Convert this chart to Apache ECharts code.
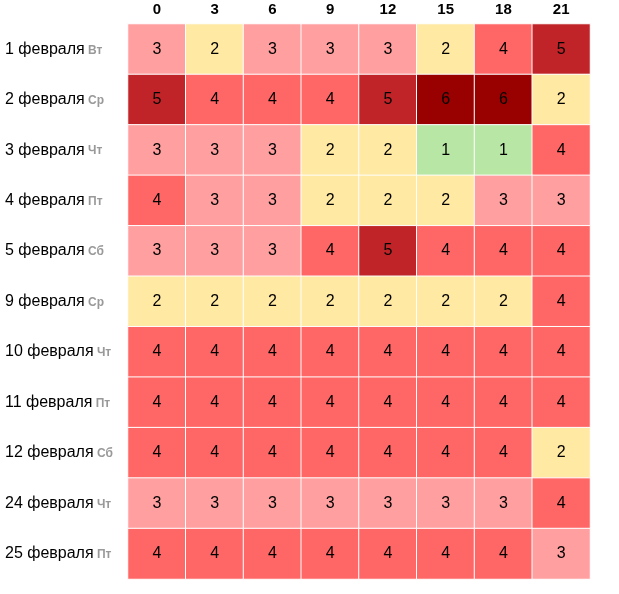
<!DOCTYPE html>
<html><head><meta charset="utf-8">
<script src="https://cdn.jsdelivr.net/npm/echarts@6/dist/echarts.min.js"></script>
<style>html,body{margin:0;padding:0;background:#fff}#c{width:619px;height:594px}</style>
</head><body><div id="c"></div>
<script>
const hours = ['0','3','6','9','12','15','18','21'];
const dates = ['1 февраля','2 февраля','3 февраля','4 февраля','5 февраля','9 февраля','10 февраля','11 февраля','12 февраля','24 февраля','25 февраля'];
const weekdays = ['Вт','Ср','Чт','Пт','Сб','Ср','Чт','Пт','Сб','Чт','Пт'];
const values = [
  [3,2,3,3,3,2,4,5],
  [5,4,4,4,5,6,6,2],
  [3,3,3,2,2,1,1,4],
  [4,3,3,2,2,2,3,3],
  [3,3,3,4,5,4,4,4],
  [2,2,2,2,2,2,2,4],
  [4,4,4,4,4,4,4,4],
  [4,4,4,4,4,4,4,4],
  [4,4,4,4,4,4,4,2],
  [3,3,3,3,3,3,3,4],
  [4,4,4,4,4,4,4,3]
];
const levelColors = {1:'#b8e6a4',2:'#ffe9a3',3:'#ff9f9f',4:'#ff6666',5:'#c02428',6:'#990000'};
const FF = '"Liberation Sans", Arial, sans-serif';

const data = [];
values.forEach((row, r) => row.forEach((v, c) => data.push([c, r, v])));
const yLabels = dates.map((d, i) => d + '|' + weekdays[i]);

const chart = echarts.init(document.getElementById('c'), null, {renderer:'canvas'});
chart.setOption({
  animation:false,
  grid:{left:128, top:24, width:462, height:555},
  xAxis:{type:'category', data:hours, position:'top',
    axisLine:{show:false}, axisTick:{show:false}, splitLine:{show:false},
    axisLabel:{margin:7, color:'#000', fontWeight:'bold', fontSize:15, fontFamily:FF}},
  yAxis:{type:'category', data:yLabels, inverse:true,
    axisLine:{show:false}, axisTick:{show:false}, splitLine:{show:false},
    axisLabel:{margin:123, align:'left',
      formatter:function(v){const p=v.split('|');return '{d|'+p[0]+'} {w|'+p[1]+'}';},
      rich:{d:{color:'#000', fontSize:16, fontFamily:FF},
            w:{color:'#999', fontSize:12, fontWeight:'bold', fontFamily:FF, padding:[2,0,0,0]}}}},
  visualMap:{show:false, type:'piecewise', dimension:2,
    pieces:Object.keys(levelColors).map(k=>({value:+k, color:levelColors[k]}))},
  series:[{type:'heatmap', data:data,
    itemStyle:{borderColor:'#fff', borderWidth:1},
    label:{show:true, color:'#000', fontSize:16, fontFamily:FF},
    emphasis:{disabled:true}}]
});
</script></body></html>
